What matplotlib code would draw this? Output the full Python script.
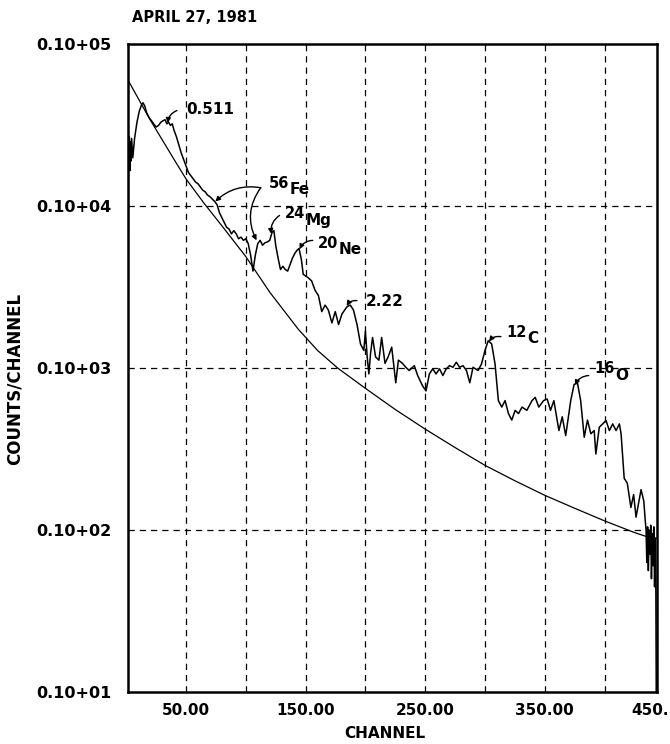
import matplotlib
matplotlib.use("Agg")
import matplotlib.pyplot as plt
import numpy as np

# ---- spectrum (channel, log10 counts/channel) ----
channel = [1.5, 1.8, 2.2, 2.6, 3.0, 3.5, 4.0, 4.5, 5.5, 7, 9, 11, 13, 14, 15.5, 17, 19, 21, 23, 25,
           27, 29, 31, 32.5, 34, 35.5, 37, 38.5, 40, 42, 44, 46, 48, 50, 52, 54, 56, 58, 60, 62,
           64, 66, 68, 70, 72, 74, 76, 78, 80, 82, 84, 86, 88, 90, 92, 94, 96, 98, 100, 102,
           104, 106, 108, 110, 112, 114, 116, 118, 120, 122, 123.5, 125, 127, 129, 131, 133, 135, 137, 139, 141,
           143, 144.5, 146.5, 148, 150, 152, 155, 158, 160.7, 163.5, 166.3, 169, 172, 174.8, 177.6, 180.4, 184.6, 187.4, 190, 193,
           195.9, 198.7, 200, 201.5, 202.9, 204.3, 206, 208.5, 211.3, 213.6, 216.4, 219, 222, 225.4, 227.6, 231, 233.8, 236.6, 240.9, 243.7,
           247.9, 250.7, 253.5, 256.3, 259.1, 262, 264.8, 267.6, 270.4, 273.2, 276, 278.8, 281.6, 284.5, 287.3, 290, 294.3, 297.1, 300, 302.7,
           305.6, 308.4, 311.2, 314, 316.8, 319.6, 322.4, 325.2, 328, 331, 335, 339.3, 342, 345, 349, 352, 354.8, 357.6, 361.8, 364.6,
           367.5, 371.7, 374.5, 377.3, 380, 383, 385.7, 388.5, 391.3, 392.7, 395.6, 398.4, 401.2, 404, 406.8, 409.6, 412.4, 413.8, 416.4, 419,
           422, 424.3, 426.3, 430.5, 432.8, 434, 434.7, 435.3, 436.0, 436.6, 437.3, 437.9, 438.6, 439.2, 439.9, 440.5, 441.2, 441.8, 442.4, 442.9,
           443.2]
log_counts = [1.0, 4.40, 4.25, 4.43, 4.22, 4.40, 4.28, 4.42, 4.30, 4.42, 4.52, 4.59, 4.63, 4.64, 4.62, 4.58, 4.55, 4.53, 4.51, 4.49,
              4.50, 4.52, 4.53, 4.535, 4.51, 4.52, 4.50, 4.51, 4.47, 4.43, 4.38, 4.33, 4.29, 4.25, 4.21, 4.19, 4.17, 4.15, 4.14, 4.12,
              4.10, 4.09, 4.07, 4.06, 4.045, 4.03, 4.01, 3.96, 3.93, 3.90, 3.87, 3.86, 3.83, 3.85, 3.83, 3.80, 3.81, 3.79, 3.80, 3.77,
              3.70, 3.60, 3.70, 3.77, 3.79, 3.76, 3.775, 3.78, 3.79, 3.84, 3.85, 3.76, 3.68, 3.61, 3.63, 3.61, 3.60, 3.64, 3.68, 3.71,
              3.73, 3.74, 3.67, 3.58, 3.57, 3.56, 3.54, 3.48, 3.45, 3.35, 3.39, 3.36, 3.28, 3.35, 3.27, 3.335, 3.38, 3.39, 3.36, 3.27,
              3.15, 3.11, 3.23, 3.07, 2.965, 3.09, 3.19, 3.07, 3.05, 3.19, 3.03, 3.07, 3.13, 2.91, 3.05, 3.03, 3.006, 2.986, 3.016, 2.955,
              2.89, 2.86, 2.965, 2.996, 2.965, 2.996, 2.955, 2.996, 3.016, 3.006, 3.037, 3.006, 3.016, 2.986, 2.91, 3.006, 2.986, 3.027, 3.11, 3.17,
              3.15, 3.027, 2.80, 2.76, 2.80, 2.72, 2.68, 2.74, 2.72, 2.76, 2.74, 2.80, 2.82, 2.76, 2.80, 2.81, 2.74, 2.80, 2.615, 2.70,
              2.584, 2.80, 2.90, 2.91, 2.80, 2.574, 2.68, 2.595, 2.615, 2.47, 2.636, 2.656, 2.677, 2.615, 2.656, 2.615, 2.656, 2.595, 2.32, 2.29,
              2.14, 2.22, 2.08, 2.25, 2.18, 2.06, 2.00, 1.80, 2.02, 1.75, 2.0, 1.85, 2.03, 1.70, 1.98, 1.78, 2.02, 1.65, 1.95, 1.60,
              1.0]

# ---- fitted background curve ----
bg_channel = [1.5, 20, 40, 50, 65, 80, 100, 120, 144, 160, 177, 200, 225, 250, 275, 300, 325, 350, 375, 400, 425, 436, 443.5]
bg_log = [4.78, 4.535, 4.29, 4.17, 4.02, 3.88, 3.69, 3.47, 3.24, 3.11, 3.0, 2.876, 2.745, 2.624, 2.51, 2.40, 2.305, 2.215, 2.135, 2.057, 1.985, 1.958, 1.95]

# ---- axis labels ----
x_tick_pos = [50, 100, 150, 200, 250, 300, 350, 400, 438]
x_tick_text = ["50.00", "", "150.00", "", "250.00", "", "350.00", "", "450."]
y_tick_pos = [1e1, 1e2, 1e3, 1e4, 1e5]
y_tick_text = ["0.10+01", "0.10+02", "0.10+03", "0.10+04", "0.10+05"]

# ---- line identifications: (text, text ch, text log, tail ch, tail log, tip ch, tip log, rad)
plain_labels = [("0.511", 50, 4.60, 42.4, 4.592, 34.8, 4.515, 0.3),
                ("2.22", 200, 3.414, 192.9, 3.418, 184.3, 3.385, 0.3)]
# (mass number, element, text ch, text log, tail ch, tail log, tip ch, tip log, rad)
isotope_labels = [("56", "Fe", 119.4, 4.14, 112.5, 4.115, 74.5, 4.03, 0.25),
                  ("24", "Mg", 132.5, 3.953, 128.2, 3.944, 121.4, 3.83, 0.3),
                  ("20", "Ne", 160.3, 3.773, 156.0, 3.79, 145.0, 3.735, 0.3),
                  ("12", "C", 317.5, 3.221, 313.3, 3.195, 303.4, 3.165, 0.3),
                  ("16", "O", 391.0, 2.996, 386.7, 2.955, 375.4, 2.895, 0.3)]
fe_second_tip = (109.0, 3.79)

plt.rcParams["font.family"] = ["DejaVu Sans"]
plt.rcParams["font.weight"] = "bold"

fig = plt.figure(figsize=(6.7, 7.44), dpi=100)
ax = fig.add_axes([128 / 670, 0.0699, 528.6 / 670, 0.8703])

ax.set_yscale("log")
ax.set_xlim(1.5, 443.5)
ax.set_ylim(10, 1e5)

ax.plot(channel, np.power(10.0, log_counts), color="black", lw=1.1, zorder=3)
ax.plot(bg_channel, np.power(10.0, bg_log), color="black", lw=0.9, zorder=3)

ax.set_xticks(x_tick_pos)
ax.set_xticklabels(x_tick_text)
ax.set_yticks(y_tick_pos)
ax.set_yticklabels(y_tick_text)
ax.yaxis.set_minor_locator(matplotlib.ticker.NullLocator())
ax.tick_params(axis="both", length=0)
ax.tick_params(axis="x", pad=8, labelsize=11)
ax.tick_params(axis="y", pad=12, labelsize=11.5)

for v in [50, 100, 150, 200, 250, 300, 350, 400]:
    ax.axvline(v, color="black", lw=0.9, ls=(0, (5, 4)), zorder=1)
for v in [1e2, 1e3, 1e4]:
    ax.axhline(v, color="black", lw=0.9, ls=(0, (5, 4)), zorder=1)

for s in ax.spines.values():
    s.set_linewidth(1.8)

fig.text(385 / 670, 1 - 733 / 744, "CHANNEL", fontsize=11, fontweight="bold",
         ha="center", va="center")
fig.text(15 / 670, 1 - 379 / 744, "COUNTS/CHANNEL", fontsize=12, fontweight="bold",
         ha="center", va="center", rotation=90)
fig.text(132 / 670, 1 - 18 / 744, "APRIL 27, 1981", fontsize=10.5, fontweight="bold",
         ha="left", va="center")

arrow_kw = dict(arrowstyle="-|>", color="black", lw=1.0, mutation_scale=7, shrinkA=0, shrinkB=0)

for text, tx, ty, ax0, ay0, bx, by, rad in plain_labels:
    ax.text(tx, 10 ** ty, text, fontsize=11, fontweight="bold", ha="left", va="center")
    ax.annotate("", xy=(bx, 10 ** by), xytext=(ax0, 10 ** ay0),
                arrowprops=dict(connectionstyle=f"arc3,rad={rad}", **arrow_kw))

for num, elem, tx, ty, ax0, ay0, bx, by, rad in isotope_labels:
    t = ax.text(tx, 10 ** ty, num, fontsize=10.5, fontweight="bold", ha="left", va="center")
    ax.annotate(elem, xy=(1, 0), xycoords=t, xytext=(0.5, -4.5), textcoords="offset points",
                fontsize=11, fontweight="bold", ha="left", va="bottom")
    ax.annotate("", xy=(bx, 10 ** by), xytext=(ax0, 10 ** ay0),
                arrowprops=dict(connectionstyle=f"arc3,rad={rad}", **arrow_kw))

ax.annotate("", xy=(fe_second_tip[0], 10 ** fe_second_tip[1]), xytext=(112.5, 10 ** 4.115),
            arrowprops=dict(connectionstyle="arc3,rad=0.3", **arrow_kw))

fig.savefig("out.png", dpi=100)
